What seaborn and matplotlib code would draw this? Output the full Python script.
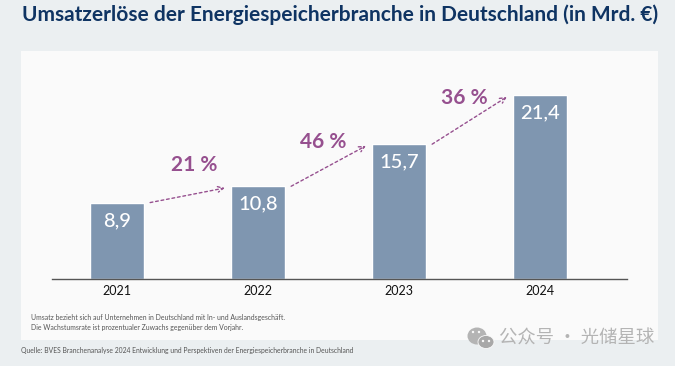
import matplotlib
matplotlib.use('Agg')
import matplotlib.pyplot as plt
import seaborn as sns
from matplotlib.patches import Rectangle, Ellipse

jahre = ['2021', '2022', '2023', '2024']
umsatz = [8.9, 10.8, 15.7, 21.4]
wachstum = ['21 %', '46 %', '36 %']

titel = 'Umsatzerlöse der Energiespeicherbranche in Deutschland (in Mrd. €)'
notiz = ('Umsatz bezieht sich auf Unternehmen in Deutschland mit In- und Auslandsgeschäft.\n'
         'Die Wachstumsrate ist prozentualer Zuwachs gegenüber dem Vorjahr.')
quelle = 'Quelle: BVES Branchenanalyse 2024 Entwicklung und Perspektiven der Energiespeicherbranche in Deutschland'
wasserzeichen = '公众号 · 光储星球'

BREITE, HOEHE = 675, 366
HG = '#ebeff1'
PANEL = '#fafafa'
BALKEN = '#7f96b0'
DUNKELBLAU = '#0f3463'
LILA = '#96508f'

sns.set_theme(style='white')
plt.rcParams['font.family'] = ['Lato', 'DejaVu Sans']

fig = plt.figure(figsize=(BREITE / 100, HOEHE / 100), dpi=100, facecolor=HG)


def fx(x):
    return x / BREITE


def fy(y):
    return 1 - y / HOEHE


# Heller Hintergrund hinter dem Diagramm
fig.patches.append(Rectangle((fx(21), fy(340)), fx(637), 289 / HOEHE, transform=fig.transFigure,
                             facecolor=PANEL, edgecolor='none', zorder=-5))

ax = fig.add_axes([fx(52), fy(279), fx(575), 228 / HOEHE])
ax.patch.set_alpha(0)

sns.barplot(x=jahre, y=umsatz, color=BALKEN, saturation=1, width=0.39, ax=ax)
ax.set_xlim(-0.461, 3.617)
ax.set_ylim(0, 26.55)

sns.despine(ax=ax, left=True)
ax.spines['bottom'].set_color('#555555')
ax.spines['bottom'].set_linewidth(1)
ax.set_yticks([])
ax.tick_params(axis='x', length=0, pad=4, labelsize=9, labelcolor='#111111')

ax.bar_label(ax.containers[0], labels=[f'{v:.1f}'.replace('.', ',') for v in umsatz],
             padding=-19, color='white', fontsize=14.5, fontweight='medium')

# Wachstumspfeile zwischen den Balken
versatz = [(5, 22), (-3.5, 17), (-3.5, 16.5)]
for i, text in enumerate(wachstum):
    start = (i + 0.235, umsatz[i])
    ende = (i + 1 - 0.235, umsatz[i + 1] - 0.2)
    ax.annotate('', xy=ende, xytext=start, annotation_clip=False,
                arrowprops=dict(arrowstyle='->', linestyle=(0, (2, 2)), color=LILA, lw=1,
                                shrinkA=0, shrinkB=0, mutation_scale=10))
    mitte = ((start[0] + ende[0]) / 2, (start[1] + ende[1]) / 2)
    ax.annotate(text, xy=mitte, xytext=versatz[i], textcoords='offset points', ha='center', va='center',
                color=LILA, fontsize=15, fontweight='bold')

fig.text(fx(22), fy(15), titel, color=DUNKELBLAU, fontsize=15, fontweight='bold', va='center')
fig.text(fx(31), fy(322.5), notiz, color='#555555', fontsize=4.95, va='center', linespacing=1.5)
fig.text(fx(21), fy(351), quelle, color='#555555', fontsize=4.9, va='center')

# Wasserzeichen
GRAU = '#b4b4b4'
fig.patches.append(Ellipse((fx(477), fy(336)), fx(19), 17 / HOEHE, transform=fig.transFigure,
                           facecolor=GRAU, edgecolor='none', zorder=5))
fig.patches.append(Ellipse((fx(486), fy(342)), fx(16), 13 / HOEHE, transform=fig.transFigure,
                           facecolor='#a8a8a8', edgecolor=PANEL, linewidth=0.6, zorder=6))
for px, py in [(473, 332), (479, 332), (483, 341), (489, 341)]:
    fig.patches.append(Ellipse((fx(px), fy(py)), fx(2.4), 2.4 / HOEHE, transform=fig.transFigure,
                               facecolor=PANEL, edgecolor='none', zorder=7))
fig.text(fx(499), fy(339), wasserzeichen, color=GRAU, fontsize=13.2, va='center',
         family=['Noto Sans CJK SC', 'DejaVu Sans'], zorder=7)

fig.savefig('out.png', dpi=100, facecolor=HG)
plt.close(fig)
